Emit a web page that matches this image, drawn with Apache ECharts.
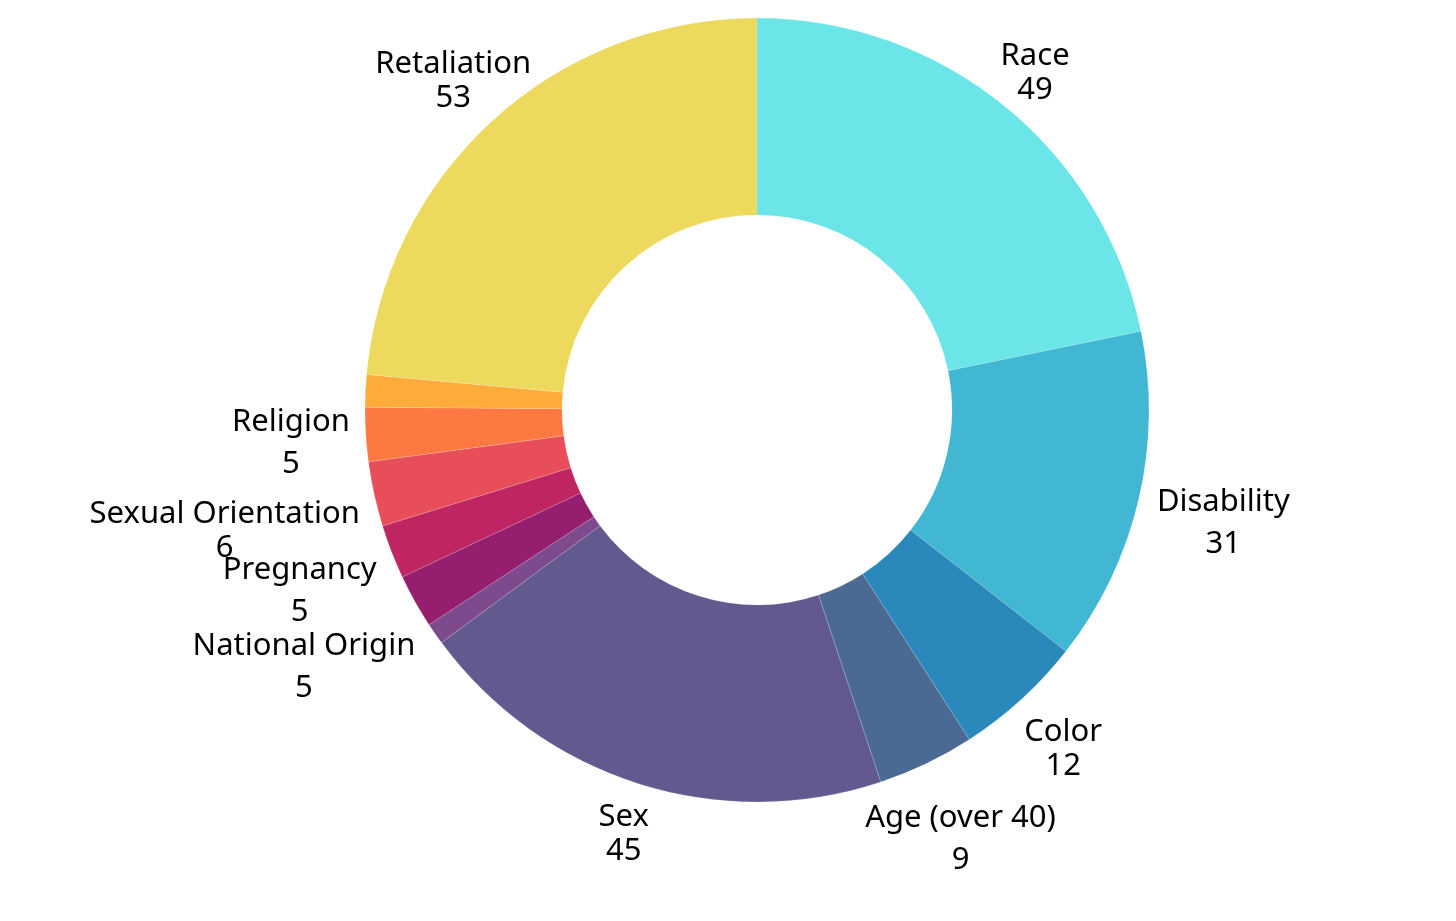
<!DOCTYPE html>
<html>
<head>
<meta charset="utf-8">
<script src="https://cdn.jsdelivr.net/npm/echarts@6/dist/echarts.min.js"></script>
<style>
  html, body { margin: 0; padding: 0; background: #fff; }
  #chart { width: 1456px; height: 921px; }
</style>
</head>
<body>
<div id="chart"></div>
<script>
// slices clockwise from 12 o'clock
var names = ['Race', 'Disability', 'Color', 'Age (over 40)', 'Sex', 'Genetic Information',
             'National Origin', 'Pregnancy', 'Sexual Orientation', 'Religion', 'Equal Pay', 'Retaliation'];
var values = [49, 31, 12, 9, 45, 2, 5, 5, 6, 5, 3, 53];
var colors = ['#6ce5e8', '#41b7d3', '#2b88ba', '#4a6a94', '#62598e', '#7e4a8e',
              '#951f6e', '#be2562', '#e84e5a', '#fe7942', '#fdab3a', '#edd95d'];
var hidden = ['Genetic Information', 'Equal Pay'];

var cx = 757, cy = 410;
var r_in = 195, r_out = 392;
var gap = 407;
var font_size = 31;
var font_family = 'Noto Sans';
var lh_tight = 34, lh_desc = 42, glyph_hh = 11;
var text_dy = 4;   // line box centre sits a little above the glyph centre

var total = values.reduce(function (a, b) { return a + b; }, 0);

var ctx = document.createElement('canvas').getContext('2d');
ctx.font = font_size + 'px "' + font_family + '"';

function has_desc(s) { return /[gjpqy(),]/.test(s); }

function mid_angle(i) {
    var before = 0;
    for (var k = 0; k < i; k++) { before += values[k]; }
    return (before + values[i] / 2) / total * Math.PI * 2;
}

function box_dist(x, y, hw, hh) {
    var dx = Math.max(Math.abs(x - cx) - hw, 0);
    var dy = Math.max(Math.abs(y - cy) - hh, 0);
    return Math.sqrt(dx * dx + dy * dy);
}

// push the label out along the slice's middle ray until both text lines clear the ring
function place_label(p) {
    var i = p.dataIndex;
    var a = mid_angle(i);
    var ux = Math.sin(a), uy = -Math.cos(a);
    var lh = has_desc(names[i]) ? lh_desc : lh_tight;
    var w1 = ctx.measureText(names[i]).width / 2;
    var w2 = ctx.measureText('' + values[i]).width / 2;
    var t = 0;
    while (t < 1000) {
        var bx = cx + t * ux, by = cy + t * uy;
        var d = Math.min(box_dist(bx, by - lh / 2, w1, glyph_hh),
                         box_dist(bx, by + lh / 2, w2, glyph_hh));
        if (d >= gap) { break; }
        t += 0.5;
    }
    return { x: cx + t * ux, y: cy + t * uy + text_dy, align: 'center', verticalAlign: 'middle' };
}

var data = [];
for (var i = 0; i < names.length; i++) {
    var item = { name: names[i], value: values[i], itemStyle: { color: colors[i] } };
    if (hidden.indexOf(names[i]) >= 0) { item.label = { show: false }; }
    data.push(item);
}

var option = {
    animation: false,
    series: [{
        type: 'pie',
        center: [cx, cy],
        radius: [r_in, r_out],
        startAngle: 90,
        clockwise: true,
        avoidLabelOverlap: false,
        itemStyle: { borderColor: 'rgba(255,255,255,0.25)', borderWidth: 0.6 },
        label: {
            show: true,
            position: 'outside',
            fontFamily: font_family,
            fontSize: font_size,
            color: '#000',
            formatter: function (p) {
                var tag = has_desc(p.name) ? 'd' : 'n';
                return '{' + tag + '|' + p.name + '}\n{' + tag + '|' + p.value + '}';
            },
            rich: {
                n: { fontFamily: font_family, fontSize: font_size, color: '#000', lineHeight: lh_tight },
                d: { fontFamily: font_family, fontSize: font_size, color: '#000', lineHeight: lh_desc }
            }
        },
        labelLine: { show: false },
        labelLayout: place_label,
        emphasis: { disabled: true },
        data: data
    }]
};

var myChart = echarts.init(document.getElementById('chart'));
myChart.setOption(option);
</script>
</body>
</html>
